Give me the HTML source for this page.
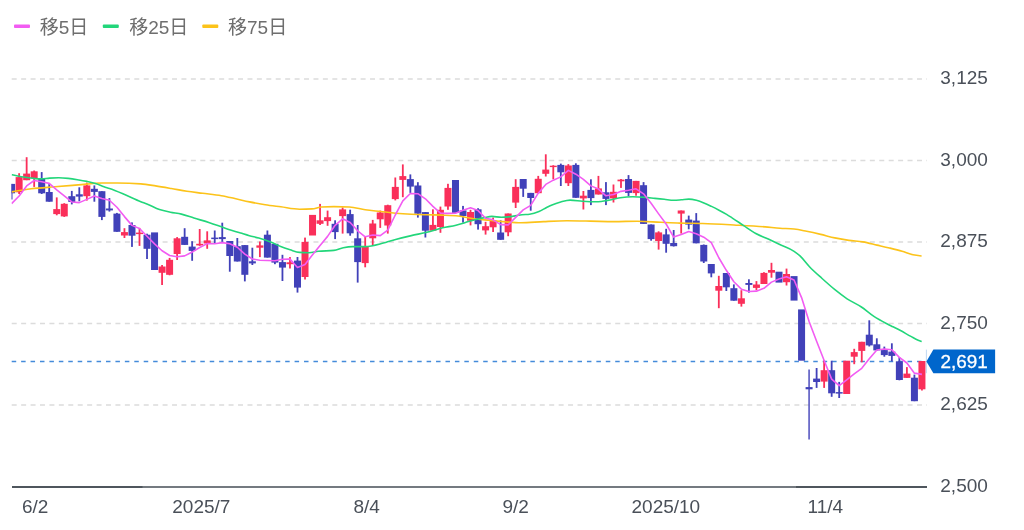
<!DOCTYPE html><html lang="ja"><head><meta charset="utf-8"><title>chart</title><style>
html,body{margin:0;padding:0;background:#fff}
body{width:1024px;height:530px;overflow:hidden;position:relative;font-family:"Liberation Sans","Noto Sans CJK JP",sans-serif}
svg{position:absolute;left:0;top:0}
.ax{font-family:"Liberation Sans",sans-serif;font-size:19px;fill:#4a5059}
.lg{font-family:"Liberation Sans","Noto Sans CJK JP",sans-serif;font-size:19px;fill:#6e6e6e}

</style></head><body>
<svg width="1024" height="530" viewBox="0 0 1024 530">
<line x1="11.7" x2="927" y1="79" y2="79" stroke="#dcdcdc" stroke-width="1.4" stroke-dasharray="5 4.43"/>
<line x1="11.7" x2="927" y1="160.5" y2="160.5" stroke="#dcdcdc" stroke-width="1.4" stroke-dasharray="5 4.43"/>
<line x1="11.7" x2="927" y1="242" y2="242" stroke="#dcdcdc" stroke-width="1.4" stroke-dasharray="5 4.43"/>
<line x1="11.7" x2="927" y1="323.5" y2="323.5" stroke="#dcdcdc" stroke-width="1.4" stroke-dasharray="5 4.43"/>
<line x1="11.7" x2="927" y1="405" y2="405" stroke="#dcdcdc" stroke-width="1.4" stroke-dasharray="5 4.43"/>
<rect x="12" y="486" width="915" height="2" fill="#747a80"/>
<rect x="12" y="486" width="130.5" height="2" fill="#4f565d"/>
<rect x="796" y="486" width="131" height="2" fill="#4f565d"/>
<line x1="11.7" x2="926" y1="361.45" y2="361.45" stroke="#448bda" stroke-width="1.45" stroke-dasharray="4.5 4.93"/>
<defs><clipPath id="cp"><rect x="11.5" y="60" width="916.5" height="426"/></clipPath></defs>
<g clip-path="url(#cp)">
<rect x="10.70" y="183.9" width="1.8" height="15.6" fill="#4141b9"/>
<rect x="8.10" y="183.9" width="7.0" height="9.4" fill="#4141b9"/>
<rect x="18.22" y="173.2" width="1.8" height="20.8" fill="#fa2f5a"/>
<rect x="15.62" y="177.1" width="7.0" height="15.2" fill="#fa2f5a"/>
<rect x="25.75" y="157.2" width="1.8" height="23.0" fill="#fa2f5a"/>
<rect x="23.15" y="173.6" width="7.0" height="6.6" fill="#fa2f5a"/>
<rect x="33.27" y="170.5" width="1.8" height="16.4" fill="#fa2f5a"/>
<rect x="30.67" y="171.3" width="7.0" height="7.0" fill="#fa2f5a"/>
<rect x="40.79" y="172.1" width="1.8" height="21.9" fill="#4141b9"/>
<rect x="38.19" y="178.3" width="7.0" height="15.0" fill="#4141b9"/>
<rect x="48.32" y="184.1" width="1.8" height="17.6" fill="#4141b9"/>
<rect x="45.72" y="192.0" width="7.0" height="9.7" fill="#4141b9"/>
<rect x="55.84" y="197.4" width="1.8" height="17.9" fill="#fa2f5a"/>
<rect x="53.24" y="209.1" width="7.0" height="5.0" fill="#fa2f5a"/>
<rect x="63.36" y="203.2" width="1.8" height="13.7" fill="#fa2f5a"/>
<rect x="60.76" y="203.8" width="7.0" height="12.6" fill="#fa2f5a"/>
<rect x="70.89" y="190.9" width="1.8" height="13.5" fill="#4141b9"/>
<rect x="68.29" y="196.2" width="7.0" height="5.7" fill="#4141b9"/>
<rect x="78.41" y="187.3" width="1.8" height="14.0" fill="#4141b9"/>
<rect x="75.81" y="194.3" width="7.0" height="2.3" fill="#4141b9"/>
<rect x="85.93" y="182.6" width="1.8" height="18.0" fill="#fa2f5a"/>
<rect x="83.33" y="185.4" width="7.0" height="10.8" fill="#fa2f5a"/>
<rect x="93.46" y="185.4" width="1.8" height="16.3" fill="#4141b9"/>
<rect x="90.86" y="188.8" width="7.0" height="3.1" fill="#4141b9"/>
<rect x="100.98" y="191.2" width="1.8" height="28.9" fill="#4141b9"/>
<rect x="98.38" y="191.2" width="7.0" height="25.7" fill="#4141b9"/>
<rect x="108.51" y="198.1" width="1.8" height="13.5" fill="#4141b9"/>
<rect x="105.91" y="208.5" width="7.0" height="1.9" fill="#4141b9"/>
<rect x="116.03" y="212.9" width="1.8" height="18.9" fill="#4141b9"/>
<rect x="113.43" y="213.6" width="7.0" height="18.2" fill="#4141b9"/>
<rect x="123.55" y="228.2" width="1.8" height="9.8" fill="#fa2f5a"/>
<rect x="120.95" y="232.1" width="7.0" height="3.4" fill="#fa2f5a"/>
<rect x="131.08" y="222.4" width="1.8" height="24.5" fill="#4141b9"/>
<rect x="128.48" y="225.0" width="7.0" height="10.7" fill="#4141b9"/>
<rect x="138.60" y="227.9" width="1.8" height="18.0" fill="#fa2f5a"/>
<rect x="136.00" y="232.6" width="7.0" height="1.5" fill="#fa2f5a"/>
<rect x="146.12" y="233.7" width="1.8" height="25.3" fill="#4141b9"/>
<rect x="143.52" y="234.7" width="7.0" height="14.1" fill="#4141b9"/>
<rect x="151.05" y="232.4" width="7.0" height="37.6" fill="#4141b9"/>
<rect x="161.17" y="265.0" width="1.8" height="20.0" fill="#fa2f5a"/>
<rect x="158.57" y="266.5" width="7.0" height="6.3" fill="#fa2f5a"/>
<rect x="168.69" y="257.9" width="1.8" height="17.4" fill="#fa2f5a"/>
<rect x="166.09" y="259.8" width="7.0" height="15.0" fill="#fa2f5a"/>
<rect x="176.22" y="237.1" width="1.8" height="22.9" fill="#fa2f5a"/>
<rect x="173.62" y="238.3" width="7.0" height="15.7" fill="#fa2f5a"/>
<rect x="183.74" y="228.2" width="1.8" height="16.7" fill="#4141b9"/>
<rect x="181.14" y="236.8" width="7.0" height="8.1" fill="#4141b9"/>
<rect x="191.26" y="241.2" width="1.8" height="19.6" fill="#4141b9"/>
<rect x="188.66" y="246.6" width="7.0" height="4.3" fill="#4141b9"/>
<rect x="198.79" y="229.0" width="1.8" height="16.9" fill="#fa2f5a"/>
<rect x="196.19" y="243.8" width="7.0" height="1.6" fill="#fa2f5a"/>
<rect x="206.31" y="231.3" width="1.8" height="17.5" fill="#fa2f5a"/>
<rect x="203.71" y="240.4" width="7.0" height="3.1" fill="#fa2f5a"/>
<rect x="213.83" y="230.5" width="1.8" height="12.5" fill="#4141b9"/>
<rect x="211.23" y="237.6" width="7.0" height="1.5" fill="#4141b9"/>
<rect x="221.36" y="222.7" width="1.8" height="19.2" fill="#4141b9"/>
<rect x="218.76" y="237.1" width="7.0" height="2.0" fill="#4141b9"/>
<rect x="228.88" y="241.0" width="1.8" height="30.7" fill="#4141b9"/>
<rect x="226.28" y="241.0" width="7.0" height="15.0" fill="#4141b9"/>
<rect x="236.41" y="238.0" width="1.8" height="23.5" fill="#4141b9"/>
<rect x="233.81" y="246.2" width="7.0" height="15.3" fill="#4141b9"/>
<rect x="243.93" y="245.1" width="1.8" height="36.3" fill="#4141b9"/>
<rect x="241.33" y="245.1" width="7.0" height="29.7" fill="#4141b9"/>
<rect x="251.45" y="247.7" width="1.8" height="17.3" fill="#4141b9"/>
<rect x="248.85" y="261.3" width="7.0" height="2.1" fill="#4141b9"/>
<rect x="258.98" y="241.5" width="1.8" height="15.6" fill="#fa2f5a"/>
<rect x="256.38" y="245.4" width="7.0" height="2.3" fill="#fa2f5a"/>
<rect x="266.50" y="230.5" width="1.8" height="27.1" fill="#4141b9"/>
<rect x="263.90" y="234.7" width="7.0" height="22.9" fill="#4141b9"/>
<rect x="274.02" y="243.8" width="1.8" height="20.4" fill="#4141b9"/>
<rect x="271.42" y="243.8" width="7.0" height="18.8" fill="#4141b9"/>
<rect x="281.55" y="254.8" width="1.8" height="26.2" fill="#4141b9"/>
<rect x="278.95" y="262.1" width="7.0" height="5.5" fill="#4141b9"/>
<rect x="289.07" y="257.1" width="1.8" height="11.4" fill="#fa2f5a"/>
<rect x="286.47" y="262.3" width="7.0" height="1.9" fill="#fa2f5a"/>
<rect x="296.59" y="257.0" width="1.8" height="35.6" fill="#4141b9"/>
<rect x="293.99" y="260.6" width="7.0" height="27.0" fill="#4141b9"/>
<rect x="304.12" y="237.6" width="1.8" height="41.9" fill="#fa2f5a"/>
<rect x="301.52" y="241.9" width="7.0" height="35.1" fill="#fa2f5a"/>
<rect x="309.04" y="214.9" width="7.0" height="20.6" fill="#fa2f5a"/>
<rect x="319.16" y="203.9" width="1.8" height="21.1" fill="#fa2f5a"/>
<rect x="316.56" y="220.3" width="7.0" height="3.5" fill="#fa2f5a"/>
<rect x="326.69" y="210.6" width="1.8" height="15.2" fill="#fa2f5a"/>
<rect x="324.09" y="217.2" width="7.0" height="3.9" fill="#fa2f5a"/>
<rect x="334.21" y="220.3" width="1.8" height="18.8" fill="#4141b9"/>
<rect x="331.61" y="223.8" width="7.0" height="8.3" fill="#4141b9"/>
<rect x="341.73" y="207.5" width="1.8" height="26.1" fill="#fa2f5a"/>
<rect x="339.13" y="209.4" width="7.0" height="6.7" fill="#fa2f5a"/>
<rect x="349.26" y="209.7" width="1.8" height="26.0" fill="#4141b9"/>
<rect x="346.66" y="214.1" width="7.0" height="19.2" fill="#4141b9"/>
<rect x="356.78" y="225.0" width="1.8" height="57.6" fill="#4141b9"/>
<rect x="354.18" y="238.3" width="7.0" height="23.8" fill="#4141b9"/>
<rect x="364.30" y="236.8" width="1.8" height="30.5" fill="#fa2f5a"/>
<rect x="361.70" y="246.9" width="7.0" height="16.2" fill="#fa2f5a"/>
<rect x="371.83" y="219.9" width="1.8" height="25.5" fill="#fa2f5a"/>
<rect x="369.23" y="223.5" width="7.0" height="14.8" fill="#fa2f5a"/>
<rect x="379.35" y="210.6" width="1.8" height="17.3" fill="#fa2f5a"/>
<rect x="376.75" y="212.5" width="7.0" height="6.8" fill="#fa2f5a"/>
<rect x="386.88" y="204.7" width="1.8" height="28.9" fill="#fa2f5a"/>
<rect x="384.28" y="205.2" width="7.0" height="20.3" fill="#fa2f5a"/>
<rect x="394.40" y="177.5" width="1.8" height="22.9" fill="#fa2f5a"/>
<rect x="391.80" y="186.9" width="7.0" height="12.2" fill="#fa2f5a"/>
<rect x="401.92" y="164.4" width="1.8" height="32.8" fill="#fa2f5a"/>
<rect x="399.32" y="176.1" width="7.0" height="3.8" fill="#fa2f5a"/>
<rect x="409.45" y="174.4" width="1.8" height="18.5" fill="#4141b9"/>
<rect x="406.85" y="179.1" width="7.0" height="7.5" fill="#4141b9"/>
<rect x="416.97" y="182.2" width="1.8" height="35.4" fill="#4141b9"/>
<rect x="414.37" y="185.5" width="7.0" height="28.2" fill="#4141b9"/>
<rect x="424.49" y="212.1" width="1.8" height="25.4" fill="#4141b9"/>
<rect x="421.89" y="212.1" width="7.0" height="18.6" fill="#4141b9"/>
<rect x="432.02" y="209.3" width="1.8" height="21.4" fill="#fa2f5a"/>
<rect x="429.42" y="224.9" width="7.0" height="5.8" fill="#fa2f5a"/>
<rect x="439.54" y="206.6" width="1.8" height="26.2" fill="#fa2f5a"/>
<rect x="436.94" y="209.8" width="7.0" height="17.2" fill="#fa2f5a"/>
<rect x="447.06" y="183.8" width="1.8" height="26.0" fill="#fa2f5a"/>
<rect x="444.46" y="187.9" width="7.0" height="18.6" fill="#fa2f5a"/>
<rect x="451.99" y="180.0" width="7.0" height="32.9" fill="#4141b9"/>
<rect x="462.11" y="205.9" width="1.8" height="16.7" fill="#4141b9"/>
<rect x="459.51" y="210.4" width="7.0" height="5.6" fill="#4141b9"/>
<rect x="469.63" y="209.8" width="1.8" height="15.6" fill="#fa2f5a"/>
<rect x="467.03" y="212.0" width="7.0" height="8.7" fill="#fa2f5a"/>
<rect x="477.16" y="208.2" width="1.8" height="21.4" fill="#4141b9"/>
<rect x="474.56" y="209.3" width="7.0" height="14.9" fill="#4141b9"/>
<rect x="484.68" y="221.8" width="1.8" height="12.8" fill="#fa2f5a"/>
<rect x="482.08" y="226.2" width="7.0" height="4.2" fill="#fa2f5a"/>
<rect x="492.20" y="217.6" width="1.8" height="14.4" fill="#fa2f5a"/>
<rect x="489.60" y="220.7" width="7.0" height="6.6" fill="#fa2f5a"/>
<rect x="499.73" y="220.3" width="1.8" height="19.5" fill="#4141b9"/>
<rect x="497.13" y="232.5" width="7.0" height="7.3" fill="#4141b9"/>
<rect x="507.25" y="213.5" width="1.8" height="22.7" fill="#fa2f5a"/>
<rect x="504.65" y="213.5" width="7.0" height="18.8" fill="#fa2f5a"/>
<rect x="514.77" y="179.2" width="1.8" height="28.8" fill="#fa2f5a"/>
<rect x="512.17" y="186.9" width="7.0" height="15.7" fill="#fa2f5a"/>
<rect x="522.30" y="179.0" width="1.8" height="17.9" fill="#4141b9"/>
<rect x="519.70" y="179.0" width="7.0" height="9.7" fill="#4141b9"/>
<rect x="529.82" y="192.9" width="1.8" height="17.8" fill="#4141b9"/>
<rect x="527.22" y="192.9" width="7.0" height="5.1" fill="#4141b9"/>
<rect x="537.35" y="175.9" width="1.8" height="17.3" fill="#fa2f5a"/>
<rect x="534.75" y="178.8" width="7.0" height="14.4" fill="#fa2f5a"/>
<rect x="544.87" y="154.3" width="1.8" height="22.2" fill="#fa2f5a"/>
<rect x="542.27" y="169.6" width="7.0" height="4.2" fill="#fa2f5a"/>
<rect x="552.39" y="165.2" width="1.8" height="14.1" fill="#fa2f5a"/>
<rect x="549.79" y="165.7" width="7.0" height="1.4" fill="#fa2f5a"/>
<rect x="559.92" y="163.6" width="1.8" height="22.4" fill="#4141b9"/>
<rect x="557.32" y="164.9" width="7.0" height="7.4" fill="#4141b9"/>
<rect x="567.44" y="164.1" width="1.8" height="21.9" fill="#fa2f5a"/>
<rect x="564.84" y="165.5" width="7.0" height="17.7" fill="#fa2f5a"/>
<rect x="574.96" y="163.3" width="1.8" height="34.5" fill="#4141b9"/>
<rect x="572.36" y="164.9" width="7.0" height="32.9" fill="#4141b9"/>
<rect x="582.49" y="191.0" width="1.8" height="18.5" fill="#fa2f5a"/>
<rect x="579.89" y="195.7" width="7.0" height="2.7" fill="#fa2f5a"/>
<rect x="590.01" y="179.3" width="1.8" height="25.8" fill="#4141b9"/>
<rect x="587.41" y="189.9" width="7.0" height="8.2" fill="#4141b9"/>
<rect x="597.53" y="175.9" width="1.8" height="18.6" fill="#fa2f5a"/>
<rect x="594.93" y="188.4" width="7.0" height="6.1" fill="#fa2f5a"/>
<rect x="605.06" y="182.1" width="1.8" height="23.0" fill="#4141b9"/>
<rect x="602.46" y="192.3" width="7.0" height="6.6" fill="#4141b9"/>
<rect x="612.58" y="184.5" width="1.8" height="18.0" fill="#fa2f5a"/>
<rect x="609.98" y="191.8" width="7.0" height="6.6" fill="#fa2f5a"/>
<rect x="620.10" y="179.0" width="1.8" height="8.9" fill="#fa2f5a"/>
<rect x="617.50" y="179.6" width="7.0" height="1.7" fill="#fa2f5a"/>
<rect x="627.63" y="175.1" width="1.8" height="21.1" fill="#4141b9"/>
<rect x="625.03" y="179.0" width="7.0" height="13.9" fill="#4141b9"/>
<rect x="635.15" y="180.9" width="1.8" height="14.8" fill="#fa2f5a"/>
<rect x="632.55" y="180.9" width="7.0" height="12.2" fill="#fa2f5a"/>
<rect x="642.67" y="182.1" width="1.8" height="41.8" fill="#4141b9"/>
<rect x="640.07" y="185.2" width="7.0" height="38.7" fill="#4141b9"/>
<rect x="650.20" y="224.5" width="1.8" height="16.2" fill="#4141b9"/>
<rect x="647.60" y="224.5" width="7.0" height="14.6" fill="#4141b9"/>
<rect x="657.72" y="231.3" width="1.8" height="18.3" fill="#fa2f5a"/>
<rect x="655.12" y="232.4" width="7.0" height="8.6" fill="#fa2f5a"/>
<rect x="665.24" y="228.8" width="1.8" height="23.9" fill="#4141b9"/>
<rect x="662.64" y="234.4" width="7.0" height="9.4" fill="#4141b9"/>
<rect x="672.77" y="230.0" width="1.8" height="16.5" fill="#4141b9"/>
<rect x="670.17" y="243.0" width="7.0" height="3.2" fill="#4141b9"/>
<rect x="680.29" y="210.5" width="1.8" height="23.1" fill="#fa2f5a"/>
<rect x="677.69" y="210.5" width="7.0" height="3.1" fill="#fa2f5a"/>
<rect x="687.82" y="215.6" width="1.8" height="13.7" fill="#4141b9"/>
<rect x="685.22" y="219.6" width="7.0" height="5.0" fill="#4141b9"/>
<rect x="695.34" y="213.1" width="1.8" height="30.2" fill="#4141b9"/>
<rect x="692.74" y="220.6" width="7.0" height="22.7" fill="#4141b9"/>
<rect x="702.86" y="244.5" width="1.8" height="18.5" fill="#4141b9"/>
<rect x="700.26" y="244.9" width="7.0" height="16.6" fill="#4141b9"/>
<rect x="710.39" y="264.0" width="1.8" height="13.3" fill="#4141b9"/>
<rect x="707.79" y="264.0" width="7.0" height="9.4" fill="#4141b9"/>
<rect x="717.91" y="275.8" width="1.8" height="32.4" fill="#fa2f5a"/>
<rect x="715.31" y="286.0" width="7.0" height="4.7" fill="#fa2f5a"/>
<rect x="725.43" y="273.0" width="1.8" height="18.0" fill="#4141b9"/>
<rect x="722.83" y="273.0" width="7.0" height="14.3" fill="#4141b9"/>
<rect x="732.96" y="284.4" width="1.8" height="16.3" fill="#4141b9"/>
<rect x="730.36" y="288.2" width="7.0" height="12.5" fill="#4141b9"/>
<rect x="740.48" y="290.2" width="1.8" height="16.4" fill="#fa2f5a"/>
<rect x="737.88" y="298.3" width="7.0" height="5.5" fill="#fa2f5a"/>
<rect x="748.00" y="279.3" width="1.8" height="13.3" fill="#4141b9"/>
<rect x="745.40" y="283.0" width="7.0" height="1.9" fill="#4141b9"/>
<rect x="755.53" y="281.1" width="1.8" height="9.1" fill="#fa2f5a"/>
<rect x="752.93" y="284.5" width="7.0" height="3.4" fill="#fa2f5a"/>
<rect x="763.05" y="272.2" width="1.8" height="11.8" fill="#fa2f5a"/>
<rect x="760.45" y="272.9" width="7.0" height="11.1" fill="#fa2f5a"/>
<rect x="770.57" y="262.8" width="1.8" height="14.9" fill="#fa2f5a"/>
<rect x="767.97" y="270.0" width="7.0" height="2.7" fill="#fa2f5a"/>
<rect x="775.50" y="271.7" width="7.0" height="10.9" fill="#4141b9"/>
<rect x="785.62" y="268.6" width="1.8" height="16.9" fill="#fa2f5a"/>
<rect x="783.02" y="274.0" width="7.0" height="8.2" fill="#fa2f5a"/>
<rect x="790.54" y="276.1" width="7.0" height="24.5" fill="#4141b9"/>
<rect x="798.07" y="309.4" width="7.0" height="51.3" fill="#4141b9"/>
<rect x="808.19" y="369.5" width="1.8" height="70.0" fill="#4141b9" opacity="0.78"/>
<rect x="805.59" y="387.1" width="7.0" height="2.2" fill="#4141b9"/>
<rect x="815.71" y="368.0" width="1.8" height="19.9" fill="#4141b9"/>
<rect x="813.11" y="378.6" width="7.0" height="3.4" fill="#4141b9"/>
<rect x="823.24" y="360.2" width="1.8" height="27.7" fill="#fa2f5a"/>
<rect x="820.64" y="370.2" width="7.0" height="11.4" fill="#fa2f5a"/>
<rect x="830.76" y="360.7" width="1.8" height="36.1" fill="#4141b9"/>
<rect x="828.16" y="370.2" width="7.0" height="23.1" fill="#4141b9"/>
<rect x="838.29" y="381.9" width="1.8" height="16.1" fill="#4141b9"/>
<rect x="835.69" y="392.1" width="7.0" height="1.5" fill="#4141b9"/>
<rect x="843.21" y="360.7" width="7.0" height="33.3" fill="#fa2f5a"/>
<rect x="853.33" y="348.8" width="1.8" height="15.4" fill="#fa2f5a"/>
<rect x="850.73" y="352.1" width="7.0" height="4.6" fill="#fa2f5a"/>
<rect x="860.86" y="341.8" width="1.8" height="20.5" fill="#fa2f5a"/>
<rect x="858.26" y="341.8" width="7.0" height="9.1" fill="#fa2f5a"/>
<rect x="868.38" y="320.3" width="1.8" height="26.2" fill="#4141b9"/>
<rect x="865.78" y="334.7" width="7.0" height="10.7" fill="#4141b9"/>
<rect x="875.90" y="338.3" width="1.8" height="12.1" fill="#4141b9"/>
<rect x="873.30" y="344.3" width="7.0" height="6.1" fill="#4141b9"/>
<rect x="883.43" y="346.6" width="1.8" height="10.1" fill="#4141b9"/>
<rect x="880.83" y="350.1" width="7.0" height="5.0" fill="#4141b9"/>
<rect x="890.95" y="343.3" width="1.8" height="18.0" fill="#4141b9"/>
<rect x="888.35" y="351.6" width="7.0" height="4.3" fill="#4141b9"/>
<rect x="898.47" y="357.1" width="1.8" height="23.2" fill="#4141b9"/>
<rect x="895.87" y="361.3" width="7.0" height="18.7" fill="#4141b9"/>
<rect x="906.00" y="367.1" width="1.8" height="10.8" fill="#fa2f5a"/>
<rect x="903.40" y="373.6" width="7.0" height="4.3" fill="#fa2f5a"/>
<rect x="913.52" y="374.6" width="1.8" height="26.6" fill="#4141b9"/>
<rect x="910.92" y="377.7" width="7.0" height="23.5" fill="#4141b9"/>
<rect x="921.04" y="361.0" width="1.8" height="29.5" fill="#fa2f5a"/>
<rect x="918.44" y="361.0" width="7.0" height="28.3" fill="#fa2f5a"/>
<path d="M11.70 191.90 C18.23 190.76 24.77 189.62 31.30 188.80 C39.13 187.82 46.97 187.45 54.80 186.80 C62.60 186.15 70.40 185.53 78.20 184.90 C86.03 184.27 93.87 183.00 101.70 183.00 C106.93 183.00 112.17 183.00 117.40 183.00 C125.20 183.00 133.00 183.30 140.80 183.90 C145.73 184.28 150.67 185.16 155.60 185.90 C160.83 186.68 166.07 187.60 171.30 188.50 C176.50 189.40 181.70 190.50 186.90 191.30 C192.13 192.10 197.37 192.63 202.60 193.30 C208.87 194.10 215.13 194.60 221.40 195.70 C225.57 196.43 229.73 197.39 233.90 198.30 C239.10 199.43 244.30 200.84 249.50 201.90 C254.73 202.97 259.97 203.88 265.20 204.70 C270.40 205.51 275.60 206.11 280.80 206.80 C287.03 207.62 293.27 209.20 299.50 209.20 C303.67 209.20 307.83 209.10 312.00 208.90 C315.13 208.75 318.27 207.20 321.40 207.00 C325.57 206.73 329.73 206.60 333.90 206.60 C339.10 206.60 344.30 206.73 349.50 207.00 C354.73 207.27 359.97 208.95 365.20 209.70 C370.40 210.45 375.60 210.90 380.80 211.50 C385.73 212.07 390.67 212.74 395.60 213.20 C400.83 213.69 406.07 214.03 411.30 214.30 C416.50 214.57 421.70 214.67 426.90 214.80 C432.13 214.93 437.37 214.90 442.60 215.10 C447.80 215.30 453.00 215.40 458.20 216.00 C463.43 216.60 468.67 217.98 473.90 218.70 C479.10 219.41 484.30 219.78 489.50 220.30 C494.73 220.82 499.97 221.38 505.20 221.80 C510.40 222.21 515.60 222.80 520.80 222.80 C528.37 222.80 535.93 221.93 543.50 221.60 C551.30 221.26 559.10 220.80 566.90 220.80 C574.73 220.80 582.57 220.97 590.40 221.10 C598.23 221.23 606.07 221.60 613.90 221.60 C621.73 221.60 629.57 221.20 637.40 221.20 C645.20 221.20 653.00 221.96 660.80 222.30 C667.20 222.58 673.60 222.90 680.00 223.10 C687.53 223.33 695.07 223.27 702.60 223.50 C713.03 223.82 723.47 224.43 733.90 225.00 C744.33 225.57 754.77 226.07 765.20 226.90 C770.13 227.29 775.07 227.85 780.00 228.20 C784.70 228.54 789.40 228.47 794.10 229.00 C798.27 229.47 802.43 230.46 806.60 231.30 C811.30 232.24 816.00 233.30 820.70 234.40 C825.40 235.50 830.10 236.90 834.80 237.90 C839.50 238.90 844.20 239.73 848.90 240.40 C853.57 241.06 858.23 241.12 862.90 241.90 C867.60 242.68 872.30 244.02 877.00 245.10 C881.17 246.06 885.33 246.97 889.50 248.00 C893.70 249.04 897.90 250.07 902.10 251.30 C905.73 252.37 909.37 254.00 913.00 254.80 C915.87 255.43 918.73 255.71 921.60 256.00" fill="none" stroke="#fcc31a" stroke-width="1.6" stroke-linejoin="round"/>
<path d="M11.70 174.60 C15.63 175.47 19.57 176.35 23.50 177.00 C26.67 177.53 29.83 177.98 33.00 178.30 C35.83 178.59 38.67 178.90 41.50 178.90 C44.13 178.90 46.77 178.27 49.40 178.10 C52.52 177.90 55.63 177.80 58.75 177.80 C61.87 177.80 64.98 178.08 68.10 178.40 C71.23 178.72 74.37 179.20 77.50 179.70 C80.63 180.20 83.77 180.72 86.90 181.40 C90.02 182.07 93.13 182.72 96.25 183.75 C98.83 184.60 101.42 185.91 104.00 186.80 C105.83 187.43 107.67 187.89 109.50 188.50 C114.73 190.24 119.97 192.59 125.20 194.80 C130.40 196.99 135.60 199.71 140.80 201.70 C142.83 202.48 144.87 203.11 146.90 203.90 C151.10 205.54 155.30 208.18 159.50 209.60 C163.13 210.83 166.77 211.45 170.40 212.20 C174.07 212.95 177.73 213.23 181.40 214.10 C185.57 215.09 189.73 216.72 193.90 218.00 C199.10 219.60 204.30 221.01 209.50 222.70 C214.73 224.40 219.97 226.46 225.20 228.20 C230.40 229.93 235.60 231.51 240.80 233.10 C243.67 233.98 246.53 234.91 249.40 235.70 C252.53 236.56 255.67 237.10 258.80 238.00 C262.97 239.20 267.13 240.60 271.30 242.30 C274.43 243.58 277.57 245.35 280.70 246.60 C283.83 247.85 286.97 248.83 290.10 249.80 C293.23 250.77 296.37 252.20 299.50 252.40 C302.63 252.60 305.77 252.70 308.90 252.70 C312.00 252.70 315.10 251.66 318.20 251.30 C323.43 250.70 328.67 251.00 333.90 250.40 C337.03 250.04 340.17 248.33 343.30 247.70 C346.43 247.07 349.57 246.60 352.70 246.60 C356.87 246.60 361.03 246.60 365.20 246.60 C370.40 246.60 375.60 245.16 380.80 243.80 C382.63 243.32 384.47 242.73 386.30 242.20 C389.40 241.30 392.50 240.35 395.60 239.50 C400.83 238.06 406.07 236.80 411.30 235.60 C416.50 234.40 421.70 233.59 426.90 232.30 C432.13 231.00 437.37 229.02 442.60 227.80 C447.07 226.76 451.53 226.43 456.00 225.30 C459.13 224.51 462.27 223.43 465.40 222.50 C468.57 221.56 471.73 220.52 474.90 219.70 C478.03 218.89 481.17 218.19 484.30 217.60 C486.80 217.13 489.30 216.40 491.80 216.40 C494.97 216.40 498.13 217.30 501.30 217.30 C503.80 217.30 506.30 217.17 508.80 216.90 C511.33 216.63 513.87 216.02 516.40 215.60 C518.27 215.29 520.13 214.92 522.00 214.70 C524.53 214.39 527.07 214.53 529.60 214.20 C532.73 213.79 535.87 212.81 539.00 211.50 C541.53 210.44 544.07 208.77 546.60 207.50 C548.40 206.60 550.20 205.66 552.00 204.90 C554.90 203.67 557.80 202.78 560.70 202.00 C563.83 201.15 566.97 200.10 570.10 200.10 C574.27 200.10 578.43 200.94 582.60 201.20 C587.80 201.53 593.00 201.70 598.20 201.70 C601.33 201.70 604.47 200.92 607.60 200.40 C611.80 199.70 616.00 198.40 620.20 197.80 C624.37 197.20 628.53 196.80 632.70 196.80 C636.93 196.80 641.17 197.06 645.40 197.40 C648.57 197.65 651.73 198.08 654.90 198.40 C658.03 198.71 661.17 198.98 664.30 199.30 C667.43 199.62 670.57 200.30 673.70 200.30 C676.23 200.30 678.77 200.00 681.30 199.80 C683.80 199.60 686.30 199.10 688.80 199.10 C691.33 199.10 693.87 199.66 696.40 200.30 C698.90 200.93 701.40 201.89 703.90 202.90 C706.43 203.92 708.97 205.17 711.50 206.40 C714.00 207.61 716.50 208.88 719.00 210.20 C721.53 211.54 724.07 212.89 726.60 214.40 C728.40 215.48 730.20 216.65 732.00 217.80 C735.77 220.21 739.53 222.81 743.30 225.30 C747.47 228.05 751.63 231.20 755.80 233.50 C759.97 235.80 764.13 237.20 768.30 239.10 C772.47 241.00 776.63 242.93 780.80 244.90 C785.23 246.99 789.67 248.25 794.10 251.30 C796.07 252.65 798.03 254.10 800.00 255.90 C803.17 258.80 806.33 263.37 809.50 266.70 C813.70 271.11 817.90 274.70 822.10 278.50 C826.27 282.27 830.43 286.02 834.60 289.40 C838.77 292.78 842.93 296.01 847.10 298.80 C851.87 301.99 856.63 303.81 861.40 307.00 C865.57 309.79 869.73 313.65 873.90 316.40 C878.07 319.15 882.23 321.32 886.40 323.50 C888.60 324.65 890.80 325.70 893.00 326.80 C895.33 327.97 897.67 329.08 900.00 330.30 C903.63 332.20 907.27 334.45 910.90 336.40 C913.33 337.70 915.77 339.18 918.20 340.20 C919.37 340.69 920.53 341.09 921.70 341.50" fill="none" stroke="#22d67a" stroke-width="1.6" stroke-linejoin="round"/>
<path d="M11.60 203.60 L19.12 196.00 L26.65 185.90 L34.17 180.50 L41.69 181.72 L49.22 183.40 L56.74 189.80 L64.26 195.84 L71.79 201.96 L79.31 202.62 L86.83 199.36 L94.36 195.92 L101.88 198.54 L109.41 200.24 L116.93 207.28 L124.45 216.62 L131.98 225.38 L139.50 228.52 L147.02 236.20 L154.55 243.84 L162.07 250.72 L169.59 255.54 L177.12 256.68 L184.64 255.90 L192.16 252.08 L199.69 247.54 L207.21 243.66 L214.73 243.82 L222.26 242.66 L229.78 243.68 L237.31 247.22 L244.83 254.10 L252.35 258.96 L259.88 260.22 L267.40 260.54 L274.92 260.76 L282.45 259.32 L289.97 259.10 L297.49 267.54 L305.02 264.40 L312.54 254.86 L320.06 245.40 L327.59 236.38 L335.11 225.28 L342.63 218.78 L350.16 222.46 L357.68 230.82 L365.20 236.76 L372.73 235.04 L380.25 235.66 L387.78 230.04 L395.30 215.00 L402.82 200.84 L410.35 193.46 L417.87 193.70 L425.39 198.80 L432.92 206.40 L440.44 213.14 L447.96 213.40 L455.49 213.24 L463.01 210.30 L470.53 207.72 L478.06 210.60 L485.58 218.26 L493.10 219.82 L500.63 224.58 L508.15 224.88 L515.67 217.42 L523.20 209.92 L530.72 205.38 L538.25 193.18 L545.77 184.40 L553.29 180.16 L560.82 176.88 L568.34 170.38 L575.86 174.18 L583.39 179.40 L590.91 185.88 L598.43 189.10 L605.96 195.78 L613.48 194.58 L621.00 191.36 L628.53 190.32 L636.05 188.82 L643.57 193.82 L651.10 203.28 L658.62 213.84 L666.14 224.02 L673.67 237.08 L681.19 234.40 L688.72 231.50 L696.24 233.68 L703.76 237.22 L711.29 242.66 L718.81 257.76 L726.33 270.30 L733.86 281.78 L741.38 289.14 L748.90 291.44 L756.43 291.14 L763.95 288.26 L771.47 282.12 L779.00 278.98 L786.52 276.80 L794.04 280.02 L801.57 297.58 L809.09 321.44 L816.61 341.32 L824.14 360.56 L831.66 379.10 L839.19 385.68 L846.71 379.96 L854.23 373.98 L861.76 368.30 L869.28 358.72 L876.80 350.08 L884.33 348.96 L891.85 349.72 L899.37 357.36 L906.90 363.00 L914.42 373.16 L921.94 374.34" fill="none" stroke="#f25cf2" stroke-width="1.6" stroke-linejoin="round"/>
</g>
<text class="ax" x="940.3" y="84.4">3,125</text>
<text class="ax" x="940.3" y="165.9">3,000</text>
<text class="ax" x="940.3" y="247.4">2,875</text>
<text class="ax" x="940.3" y="328.9">2,750</text>
<text class="ax" x="940.3" y="410.4">2,625</text>
<text class="ax" x="940.3" y="491.9">2,500</text>
<text class="ax" x="22" y="513.2">6/2</text>
<text class="ax" x="172.3" y="513.2">2025/7</text>
<text class="ax" x="353.5" y="513.2">8/4</text>
<text class="ax" x="502.5" y="513.2">9/2</text>
<text class="ax" x="631.5" y="513.2">2025/10</text>
<text class="ax" x="807.5" y="513.2">11/4</text>
<path d="M926.4 361.4 L933.4 349.5 H995.1 V373.2 H933.4 Z" fill="#0066cc"/>
<text x="940.4" y="368.1" style="font-family:'Liberation Sans',sans-serif;font-size:18.9px;fill:#fff;stroke:#fff;stroke-width:0.3px">2,691</text>
<rect x="925.9" y="349.6" width="0.9" height="23.6" fill="#0066cc" opacity="0.28"/>
<rect x="14" y="24.6" width="16" height="3.3" rx="0.9" fill="#f25cf2"/>
<text class="lg" x="39.7" y="33.5">移5日</text>
<rect x="102.8" y="24.6" width="16" height="3.3" rx="0.9" fill="#22d67a"/>
<text class="lg" x="129.2" y="33.5">移25日</text>
<rect x="202.3" y="24.6" width="16" height="3.3" rx="0.9" fill="#fcc31a"/>
<text class="lg" x="228" y="33.5">移75日</text>
</svg></body></html>
